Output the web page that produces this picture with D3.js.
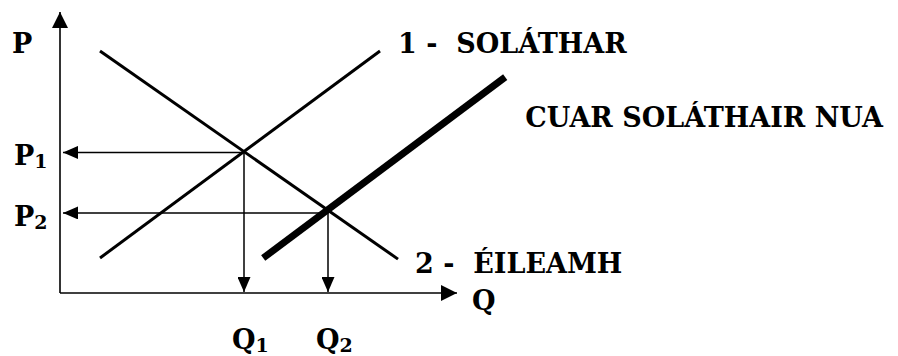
<!DOCTYPE html>
<html>
<head>
<meta charset="utf-8">
<script src="https://cdn.jsdelivr.net/npm/d3@7"></script>
<style>
  body { margin: 0; background: #fff; }
</style>
</head>
<body>
<div id="chart"></div>
<script>
// curve end points (quantity, price)
var supplyQ = [1.0, 8.0], supplyP = [1.25, 8.64];
var demandQ = [1.0, 8.45], demandP = [8.64, 1.21];
var newSupplyQ = [5.08, 11.13], newSupplyP = [1.25, 7.71];
// equilibrium points
var eqQ = [4.6, 6.7], eqP = [5.02, 2.86];
var curveNames = ["1 -  SOLÁTHAR", "2 -  ÉILEAMH", "CUAR SOLÁTHAIR NUA"];
var priceLabels = ["1", "2"], quantityLabels = ["1", "2"];
var axisNames = ["P", "Q"];

var serif = "'DejaVu Serif', 'Liberation Serif', serif";

var width = 898, height = 356;
var svg = d3.select("#chart").append("svg")
    .attr("width", width)
    .attr("height", height);

var x = d3.scaleLinear().domain([0, 10]).range([60, 460]);
var y = d3.scaleLinear().domain([0, 10]).range([293, 13]);

var defs = svg.append("defs");
function marker(id, len, half) {
  defs.append("marker")
      .attr("id", id)
      .attr("markerUnits", "userSpaceOnUse")
      .attr("viewBox", "0 0 " + len + " " + (half * 2))
      .attr("refX", len).attr("refY", half)
      .attr("markerWidth", len).attr("markerHeight", half * 2)
      .attr("orient", "auto")
    .append("path")
      .attr("d", "M0,0L" + len + "," + half + "L0," + (half * 2) + "Z")
      .attr("fill", "#000");
}
marker("axisHead", 16, 8);
marker("smallHead", 15, 6.5);

var line = d3.line().x(function(d) { return x(d[0]); }).y(function(d) { return y(d[1]); });

// axes
svg.append("path")
    .attr("d", "M" + x(0) + "," + y(0) + "V12")
    .attr("stroke", "#000").attr("stroke-width", 1.6).attr("fill", "none")
    .attr("marker-end", "url(#axisHead)");
svg.append("path")
    .attr("d", "M" + x(0) + "," + y(0) + "H457")
    .attr("stroke", "#000").attr("stroke-width", 1.6).attr("fill", "none")
    .attr("marker-end", "url(#axisHead)");

// curves
var curves = [
  {q: supplyQ, p: supplyP, w: 3},
  {q: demandQ, p: demandP, w: 3},
  {q: newSupplyQ, p: newSupplyP, w: 7}
];
svg.selectAll(".curve")
    .data(curves)
    .enter().append("path")
    .attr("class", "curve")
    .attr("d", function(d) { return line(d.q.map(function(v, i) { return [v, d.p[i]]; })); })
    .attr("stroke", "#000")
    .attr("stroke-width", function(d) { return d.w; })
    .attr("fill", "none");

// guide arrows from equilibrium points
for (var i = 0; i < eqQ.length; i++) {
  svg.append("line")
      .attr("x1", x(eqQ[i])).attr("y1", y(eqP[i]))
      .attr("x2", x(0) + 3).attr("y2", y(eqP[i]))
      .attr("stroke", "#000").attr("stroke-width", 1.5)
      .attr("marker-end", "url(#smallHead)");
  svg.append("line")
      .attr("x1", x(eqQ[i])).attr("y1", y(eqP[i]))
      .attr("x2", x(eqQ[i])).attr("y2", y(0) - 1)
      .attr("stroke", "#000").attr("stroke-width", 1.5)
      .attr("marker-end", "url(#smallHead)");
}

var fs = 27;
function label(px, py, s) {
  return svg.append("text")
      .attr("x", px).attr("y", py)
      .attr("font-size", fs)
      .attr("font-family", serif)
      .attr("font-weight", "bold")
      .attr("xml:space", "preserve")
      .text(s);
}
// curve names
label(x(supplyQ[1]) + 18, y(supplyP[1]) + 2, curveNames[0]);
label(x(demandQ[1]) + 17, y(demandP[1]) + 14, curveNames[1]);
label(x(newSupplyQ[1]) + 20, y(newSupplyP[1]) + 50, curveNames[2]);

// axis names
label(12, 53, axisNames[0]);
label(472, 310, axisNames[1]);

// P1, P2
priceLabels.forEach(function(s, i) {
  var t = label(14, y(eqP[i]) + 13, "P");
  t.append("tspan").attr("font-size", 19).attr("dy", 3).text(s);
});
// Q1, Q2
quantityLabels.forEach(function(s, i) {
  var t = label(x(eqQ[i]) - 12, 349, "Q");
  t.append("tspan").attr("font-size", 19).attr("dy", 3).text(s);
});
</script>
</body>
</html>
